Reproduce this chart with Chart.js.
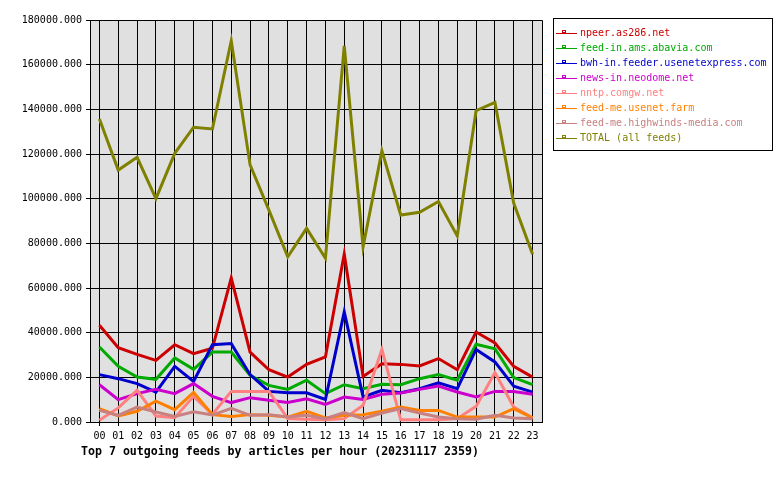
<!DOCTYPE html>
<html>
<head>
<meta charset="utf-8">
<script src="https://cdn.jsdelivr.net/npm/chart.js@4/dist/chart.umd.min.js"></script>
<style>
html,body{margin:0;padding:0;background:#fff;}
#wrap{width:780px;height:480px;position:relative;}
</style>
</head>
<body>
<div id="wrap"><canvas id="c" width="780" height="480"></canvas></div>
<script>
const hours = ["00","01","02","03","04","05","06","07","08","09","10","11","12","13","14","15","16","17","18","19","20","21","22","23"];
const yTicks = [0,20000,40000,60000,80000,100000,120000,140000,160000,180000];
const chartTitle = "Top 7 outgoing feeds by articles per hour (20231117 2359)";

const seriesNames = [
  "npeer.as286.net",
  "feed-in.ams.abavia.com",
  "bwh-in.feeder.usenetexpress.com",
  "news-in.neodome.net",
  "nntp.comgw.net",
  "feed-me.usenet.farm",
  "feed-me.highwinds-media.com",
  "TOTAL (all feeds)"
];
const seriesColors = ["#cc0000","#00aa00","#0000cc","#cc00cc","#ff8080","#ff8000","#c88080","#808000"];

const npeer     = [43300,33300,30300,27600,34600,30600,33000,64500,31300,23400,20100,25800,29100,75200,20400,26100,25800,25100,28400,23400,40300,35400,24900,20100];
const abavia    = [33600,24900,20100,19100,28700,23600,31300,31300,20900,16400,14600,18700,12700,16700,14900,16900,16700,19400,21200,18700,34800,32800,19900,16700];
const usenetexp = [21200,19400,17200,13400,24900,18200,34600,35100,21200,13700,13100,13100,10100,49300,11200,14200,13100,14900,17500,14900,32500,26900,16000,13400];
const neodome   = [16700,10000,12700,14600,12700,17200,11500,8700,10900,9700,8700,10400,7900,11200,10100,12400,13000,14600,16100,13400,11200,13700,13700,12400];
const comgw     = [800,6300,14200,2700,1900,11500,3500,13700,13700,13700,1500,1200,1000,1500,7500,32500,1000,1000,1000,1500,7000,22100,6700,1900];
const usenetfarm= [6000,2700,4800,9300,5500,13300,3300,2500,3300,3000,2200,4800,1800,3000,3300,4800,6700,5200,5200,2200,2200,2200,6000,1800];
const highwinds = [5200,3000,6700,4500,2500,4600,3100,6100,3000,3300,2200,3000,1500,4200,1500,4000,6000,4000,2200,1500,1200,3000,1800,1500];
const total     = [135700,112800,118500,100000,120300,132000,131200,170700,115100,94900,74000,86700,73300,168400,78500,121400,92700,93900,98700,83300,139400,143100,97900,75100];

const seriesValues = [npeer, abavia, usenetexp, neodome, comgw, usenetfarm, highwinds, total];

const MONO = "'DejaVu Sans Mono', 'Liberation Mono', monospace";

const datasets = seriesValues.map((vals, i) => ({
  label: seriesNames[i],
  data: vals,
  borderColor: seriesColors[i],
  backgroundColor: seriesColors[i],
  borderWidth: 3,
  pointRadius: 0,
  tension: 0,
  fill: false,
  order: seriesValues.length - i,
  borderJoinStyle: 'miter',
  borderCapStyle: 'butt'
}));

const decor = {
  id: 'decor',
  beforeDraw(chart) {
    const {ctx, chartArea: a} = chart;
    ctx.save();
    ctx.fillStyle = '#e0e0e0';
    ctx.fillRect(a.left, a.top, a.right - a.left, a.bottom - a.top);
    ctx.restore();
  },
  afterDraw(chart) {
    const {ctx, chartArea: a} = chart;
    ctx.save();
    ctx.strokeStyle = '#000';
    ctx.lineWidth = 1;
    ctx.beginPath();
    ctx.moveTo(Math.round(a.left) + 0.5, Math.round(a.top) + 0.5);
    ctx.lineTo(Math.round(a.right) + 0.5, Math.round(a.top) + 0.5);
    ctx.lineTo(Math.round(a.right) + 0.5, Math.round(a.bottom) + 0.5);
    ctx.stroke();

    // legend
    const bx = 553.5, by = 18.5, bw = 219, bh = 132;
    ctx.fillStyle = '#fff';
    ctx.fillRect(bx, by, bw, bh);
    ctx.strokeRect(bx, by, bw, bh);
    ctx.font = '10px ' + MONO;
    ctx.textBaseline = 'middle';
    ctx.textAlign = 'left';
    seriesNames.forEach((name, i) => {
      const y = 33 + i * 15;
      ctx.strokeStyle = seriesColors[i];
      ctx.lineWidth = 1;
      ctx.beginPath();
      ctx.moveTo(556, y + 0.5);
      ctx.lineTo(577, y + 0.5);
      ctx.stroke();
      ctx.strokeRect(562.5, y - 2.5, 3, 2);
      ctx.fillStyle = seriesColors[i];
      ctx.fillText(name, 580, y);
    });

    // title
    ctx.fillStyle = '#000';
    ctx.font = 'bold 11.6px ' + MONO;
    ctx.textBaseline = 'middle';
    ctx.fillText(chartTitle, 81, 452);
    ctx.restore();
  }
};

new Chart(document.getElementById('c'), {
  type: 'line',
  data: { labels: hours, datasets },
  options: {
    responsive: false,
    animation: false,
    layout: { padding: { left: 0, right: 238, top: 20, bottom: 0 } },
    plugins: { legend: { display: false }, tooltip: { enabled: false }, title: { display: false } },
    scales: {
      x: {
        offset: true,
        grid: { color: '#000', lineWidth: 1, tickLength: 4, offset: false, drawOnChartArea: true },
        border: { display: true, color: '#000', width: 1 },
        ticks: { color: '#000', font: { family: MONO, size: 10 }, padding: 4, maxRotation: 0, autoSkip: false },
        afterFit(s) { s.height = 58; }
      },
      y: {
        min: 0, max: 180000,
        afterBuildTicks(s) { s.ticks = yTicks.map(v => ({ value: v })); },
        grid: { color: '#000', lineWidth: 1, tickLength: 4 },
        border: { display: true, color: '#000', width: 1 },
        ticks: { color: '#000', font: { family: MONO, size: 10 }, padding: 4, callback: v => Number(v).toFixed(3) },
        afterFit(s) { s.width = 90; }
      }
    }
  },
  plugins: [decor]
});
</script>
</body>
</html>
